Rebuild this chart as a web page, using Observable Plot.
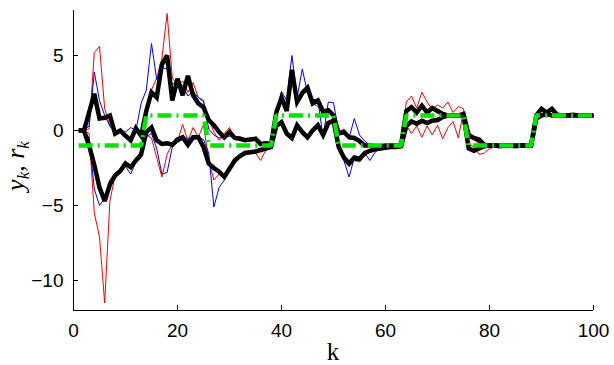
<!DOCTYPE html>
<html><head><meta charset="utf-8">
<script src="https://cdn.jsdelivr.net/npm/d3@7"></script>
<script src="https://cdn.jsdelivr.net/npm/@observablehq/plot@0.6"></script>
<style>body{margin:0;background:#fff}</style>
</head><body><div id="chart"></div>
<script>
const kValues = d3.range(1, 101);
const xTicks = [0, 20, 40, 60, 80, 100];
const yTicks = [-10, -5, 0, 5];

const reference = [
 -1,-1,-1,-1,-1,-1,-1,-1,-1,-1,-1,-1,-1,
 1,1,1,1,1,1,1,1,1,1,1,1,
 -1,-1,-1,-1,-1,-1,-1,-1,-1,-1,-1,-1,-1,
 1,1,1,1,1,1,1,1,1,1,1,1,
 -1,-1,-1,-1,-1,-1,-1,-1,-1,-1,-1,-1,-1,
 1,1,1,1,1,1,1,1,1,1,1,1,
 -1,-1,-1,-1,-1,-1,-1,-1,-1,-1,-1,-1,-1,
 1,1,1,1,1,1,1,1,1,1,1,1];

const blackUpper = [
 0,0,1.2,2.45,0.8,0.85,1.0,-0.2,0.0,-0.35,
 -0.65,0.15,-0.35,1.3,2.55,2.2,4.4,5.0,2.0,3.45,
 2.35,3.65,2.35,1.8,1.55,0.7,0.35,-0.1,-0.45,-0.1,
 -0.5,-0.55,-0.65,-0.6,-0.55,-0.9,-0.85,-0.9,1.2,2.2,
 1.3,4.05,1.9,2.5,2.85,1.8,2.0,1.25,1.35,1.0,
 -0.2,-0.1,-0.45,-0.5,-0.7,-1.0,-1.0,-1.05,-1.05,-1.0,
 -1.0,-1.0,-0.95,1.3,1.55,1.2,1.65,1.2,1.5,1.3,
 1.1,1.0,1.0,1.0,1.1,-0.3,-0.5,-0.6,-0.95,-1.0,
 -1.0,-1.05,-1.0,-1.0,-1.05,-1.0,-1.0,-1.0,1.0,1.45,
 1.2,1.45,1.05,1.0,1.0,1.05,1.0,1.0,1.0,1.0];

const blackLower = [
 0,0,-1.0,-2.3,-3.8,-4.7,-3.6,-3.0,-2.7,-2.2,
 -2.45,-2.0,-1.6,-0.1,0.2,-0.65,-0.9,-0.85,-0.95,-0.6,
 -0.45,-0.95,-0.45,-0.45,-1.1,-2.2,-2.5,-2.75,-3.1,-2.55,
 -2.0,-1.7,-1.5,-1.45,-1.4,-1.3,-1.2,-1.1,0.3,0.55,
 -0.2,-0.5,0.35,-0.1,-0.45,0.0,0.35,-0.3,0.5,0.65,
 -1.1,-1.8,-2.2,-1.8,-1.9,-1.5,-1.35,-1.25,-1.2,-1.15,
 -1.1,-1.1,-1.05,0.3,0.6,0.45,0.65,0.5,0.65,0.7,
 0.9,1.0,1.0,1.0,1.0,-1.2,-1.35,-1.2,-1.05,-1.0,
 -1.0,-1.0,-1.0,-1.0,-1.0,-1.0,-1.0,-1.0,0.8,1.0,
 1.1,1.0,1.0,1.0,1.0,1.0,1.0,1.0,1.0,1.0];

const redUpper = [
 0,0,0.1,5.2,5.6,1.45,0.3,-0.2,0.0,-0.3,
 -0.5,0.2,-0.2,1.2,2.7,3.5,4.8,7.8,3.5,3.0,
 3.3,2.55,3.2,2.2,1.9,0.8,-0.1,-0.65,-0.2,0.2,
 -0.5,-0.4,-0.6,-0.5,-0.6,-0.8,-0.9,-0.8,1.3,2.4,
 1.6,3.8,2.0,2.4,2.6,1.8,1.6,1.2,1.4,0.9,
 -0.1,0.1,-0.6,-0.4,-0.9,-1.1,-1.0,-1.05,-1.0,-1.0,
 -1.0,-1.0,-1.0,1.9,2.3,1.5,2.55,1.9,1.4,1.7,
 1.5,1.9,1.2,1.6,1.45,-0.5,-0.6,-0.9,-1.0,-1.0,
 -1.0,-1.0,-1.0,-1.0,-1.0,-1.0,-1.0,-1.0,0.8,1.3,
 1.1,1.3,1.0,1.0,1.0,1.0,1.0,1.0,1.0,1.0];

const redLower = [
 0,0,-0.2,-5.5,-7.1,-11.5,-4.7,-3.0,-2.7,-2.3,
 -2.4,-2.0,-1.6,-0.3,-0.5,-1.8,-3.1,-1.6,-0.9,-0.7,
 0.4,-0.7,0.2,-0.45,0.4,-2.0,-3.3,-2.9,-2.9,-2.4,
 -2.0,-1.7,-1.6,-1.5,-1.5,-2.0,-1.3,-1.2,0.2,0.4,
 -0.3,-0.4,0.2,-0.3,-0.5,0.1,0.2,-0.4,0.4,0.5,
 -1.3,-2.0,-2.4,-2.0,-2.1,-1.7,-1.4,-1.3,-1.3,-1.2,
 -1.15,-1.1,-1.05,0.35,-0.2,0.3,-0.45,0.3,-0.3,0.35,
 -0.55,0.2,0.6,-0.5,1.3,-0.9,-1.1,-1.6,-1.5,-1.2,
 -1.1,-1.0,-1.0,-1.0,-1.0,-1.0,-1.0,-1.0,0.7,0.9,
 1.0,1.0,1.0,1.0,1.0,1.0,1.0,1.0,1.0,1.0];

const blueUpper = [
 0,0,0.3,3.9,2.0,1.0,0.3,-0.1,0.0,-0.1,
 0.2,0.0,1.8,2.7,5.8,3.4,4.2,4.1,3.1,3.2,
 3.0,2.3,2.6,2.2,2.0,0.1,-0.3,-0.5,-0.3,-0.4,
 -0.45,-0.5,-0.6,-0.55,-0.6,-0.85,-0.9,-0.9,1.0,2.6,
 2.0,5.0,2.2,4.1,2.5,2.1,2.0,-0.45,1.9,1.85,
 -0.1,-0.2,-0.5,0.8,-0.3,-0.7,-1.0,-1.2,-1.0,-1.0,
 -1.0,-1.0,-1.0,1.2,1.6,1.3,1.6,1.3,1.45,1.25,
 1.1,1.05,1.0,1.0,1.0,-0.4,-0.6,-0.8,-1.0,-1.0,
 -1.0,-1.0,-1.0,-1.0,-1.0,-1.0,-1.0,-1.0,0.9,1.4,
 1.2,1.4,1.0,1.0,1.0,1.0,1.0,1.0,1.0,1.0];

const blueLower = [
 0,0,-0.5,-3.9,-5.0,-4.5,-3.3,-2.9,-2.6,-2.4,
 -2.9,-2.1,-1.8,-0.4,-0.2,-1.2,-2.9,-2.8,-1.1,-0.8,
 -0.6,-0.5,-0.6,-0.5,-0.6,-1.5,-5.1,-3.8,-3.3,-2.6,
 -2.1,-1.8,-1.6,-1.5,-1.4,-1.4,-1.25,-1.15,0.3,0.6,
 -0.3,-0.4,0.3,-0.2,-0.4,0.1,0.3,-0.3,0.5,0.6,
 -1.2,-2.0,-3.1,-1.8,-1.9,-1.5,-2.0,-1.45,-1.2,-1.15,
 -1.1,-1.05,-1.0,0.3,0.6,0.5,0.6,0.5,0.7,0.75,
 0.9,1.0,1.0,1.0,1.0,-1.1,-1.3,-1.2,-1.1,-1.0,
 -1.0,-1.0,-1.0,-1.0,-1.0,-1.0,-1.0,-1.0,0.8,1.0,
 1.0,1.0,1.0,1.0,1.0,1.0,1.0,1.0,1.0,1.0];

const rows = (values) => values.map((v, i) => ({k: kValues[i], v}));

const thin = (values, color) => Plot.line(rows(values), {x: "k", y: "v", stroke: color, strokeWidth: 1});
const thick = (values) => Plot.line(rows(values), {x: "k", y: "v", stroke: "#000", strokeWidth: 4.5, strokeLinejoin: "miter", strokeMiterlimit: 3, strokeLinecap: "butt"});

const chart = Plot.plot({
  width: 614,
  height: 365,
  marginLeft: 73,
  marginRight: 21,
  marginTop: 10,
  marginBottom: 55,
  style: {fontFamily: "'Liberation Sans', Arial, sans-serif", fontSize: "19px", background: "white", color: "black", overflow: "visible"},
  x: {domain: [0, 100]},
  y: {domain: [-12, 8]},
  marks: [
    thin(redUpper, "#ff0000"),
    thin(redLower, "#ff0000"),
    thin(blueUpper, "#0000ff"),
    thin(blueLower, "#0000ff"),
    thick(blackUpper),
    thick(blackLower),
    Plot.line(rows(reference), {x: "k", y: "v", stroke: "#00e400", strokeWidth: 4.5, strokeDasharray: "14,5,2,5", strokeLinecap: "butt", strokeLinejoin: "miter"}),
    Plot.ruleX([0], {stroke: "#000", strokeWidth: 1}),
    Plot.ruleY([-12], {stroke: "#000", strokeWidth: 1}),
    Plot.axisX(xTicks, {tickSize: -5, tickPadding: 18, label: null, fontSize: 19}),
    Plot.axisY(yTicks, {tickSize: -5, tickPadding: 15, label: null, fontSize: 19})
  ]
});
document.getElementById("chart").appendChild(chart);

const svg = d3.select(chart);
svg.append("text")
  .attr("x", 333).attr("y", 360)
  .attr("text-anchor", "middle")
  .attr("font-family", "'Liberation Serif', 'DejaVu Serif', serif")
  .attr("font-size", 25)
  .attr("fill", "#000")
  .text("k");
const yl = svg.append("text")
  .attr("transform", "translate(24,166) rotate(-90)")
  .attr("text-anchor", "middle")
  .attr("font-family", "'Liberation Serif', 'DejaVu Serif', serif")
  .attr("font-size", 26)
  .attr("font-style", "italic")
  .attr("fill", "#000");
yl.append("tspan").text("y");
yl.append("tspan").attr("font-size", 17).attr("dy", 5).text("k");
yl.append("tspan").attr("dy", -5).attr("font-style", "normal").text(", ");
yl.append("tspan").text("r");
yl.append("tspan").attr("font-size", 17).attr("dy", 5).text("k");
</script>
</body></html>
